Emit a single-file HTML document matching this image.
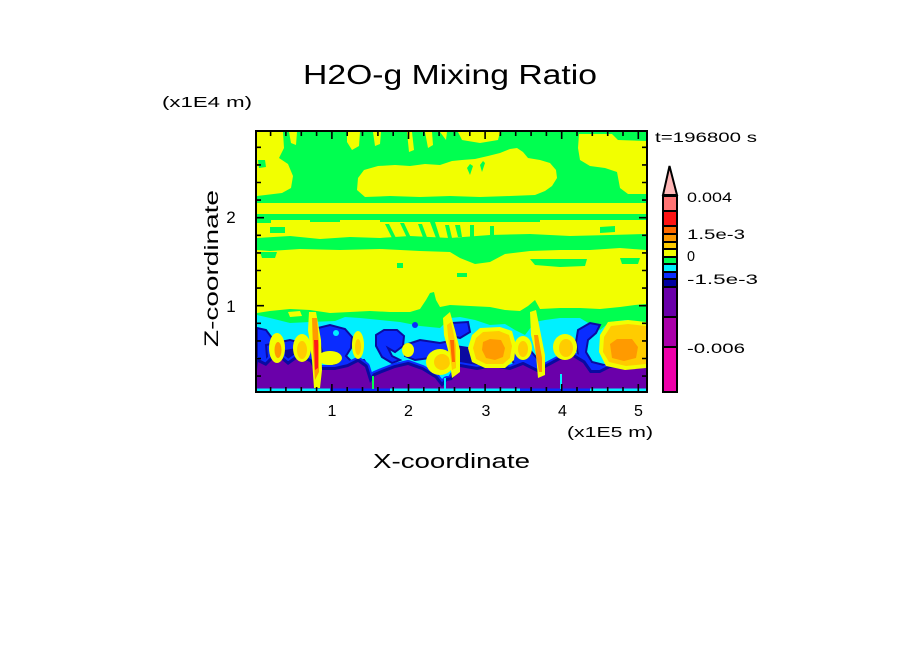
<!DOCTYPE html>
<html><head><meta charset="utf-8"><style>html,body{margin:0;padding:0;background:#fff;width:904px;height:654px;overflow:hidden}svg{display:block}</style></head>
<body>
<svg width="904" height="654" viewBox="0 0 904 654" xmlns="http://www.w3.org/2000/svg" font-family="Liberation Sans, sans-serif">
<rect width="904" height="654" fill="#fff"/>
<defs><clipPath id="c"><rect x="257" y="132" width="389" height="259"/></clipPath></defs>
<g clip-path="url(#c)">
<rect x="257" y="132" width="389" height="259" fill="#f2ff00"/>
<!-- top green block -->
<rect x="257" y="132" width="389" height="71" fill="#00ff50"/>
<!-- yellow overlays in top -->
<polygon fill="#f2ff00" points="257,132 283,132 284,148 279,158 288,164 293,176 291,188 282,193 257,196"/>
<polygon fill="#00ff50" points="258,160 265,160 266,167 259,168"/>
<polygon fill="#f2ff00" points="289,132 297,132 296,145 291,143"/>
<polygon fill="#f2ff00" points="347,132 360,132 359,146 352,150 347,142"/>
<polygon fill="#f2ff00" points="373,132 381,132 380,144 375,146"/>
<polygon fill="#f2ff00" points="407,132 412,132 414,150 409,152"/>
<polygon fill="#f2ff00" points="425,132 432,132 433,145 428,148"/>
<polygon fill="#f2ff00" points="440,132 447,132 446,140"/>
<polygon fill="#f2ff00" points="458,132 500,132 498,140 480,143 462,140"/>
<polygon fill="#f2ff00" points="357,190 358,178 364,170 378,166 395,165 410,166 425,164 440,165 452,161 462,160 475,159 488,156 500,153 510,149 517,148 523,152 528,158 540,160 550,163 556,170 557,178 552,186 545,191 535,195 510,196 480,197 450,196 420,197 390,196 365,197"/>
<polygon fill="#00ff50" points="467,168 470,164 473,166 470,175"/>
<polygon fill="#00ff50" points="480,165 483,161 485,163 482,172"/>
<polygon fill="#f2ff00" points="579,134 612,134 618,140 646,141 646,194 628,194 620,188 617,172 605,168 590,166 580,160 578,148"/>
<!-- mid bands -->
<rect x="257" y="214" width="389" height="6" fill="#00ff50"/>
<rect x="380" y="220" width="160" height="2" fill="#00ff50"/>
<rect x="257" y="220" width="14" height="3" fill="#00ff50"/>
<rect x="310" y="220" width="30" height="2" fill="#00ff50"/>
<polygon fill="#00ff50" points="270,227 285,227 285,233 270,233"/>
<polygon fill="#00ff50" points="385,224 389,224 397,240 393,240"/>
<polygon fill="#00ff50" points="400,223 404,223 412,240 408,240"/>
<polygon fill="#00ff50" points="418,224 422,224 428,240 424,240"/>
<polygon fill="#00ff50" points="430,222 435,222 440,238 436,238"/>
<polygon fill="#00ff50" points="445,225 449,225 452,238 448,238"/>
<polygon fill="#00ff50" points="455,225 460,225 462,237 458,237"/>
<polygon fill="#00ff50" points="470,225 474,225 474,237 470,237"/>
<polygon fill="#00ff50" points="490,226 494,226 494,236 490,236"/>
<polygon fill="#00ff50" points="600,227 615,226 615,232 600,233"/>
<polygon fill="#00ff50" points="257,238 290,236 320,239 350,237 380,238 410,236 450,238 490,235 530,234 570,236 610,235 646,234 646,250 620,248 590,250 560,250 530,251 505,254 490,262 475,264 460,258 450,252 420,251 380,249 340,250 300,249 270,251 257,250"/>
<polygon fill="#00ff50" points="260,252 277,252 275,258 262,258"/>
<polygon fill="#00ff50" points="530,259 587,259 585,266 560,267 535,265"/>
<polygon fill="#00ff50" points="397,263 403,263 403,268 397,268"/>
<polygon fill="#00ff50" points="457,273 467,273 467,277 457,277"/>
<polygon fill="#00ff50" points="620,258 640,258 638,264 622,264"/>
<!-- bottom zone: green layer -->
<polygon fill="#00ff50" points="257,313 270,311 290,309 310,310 330,313 350,312 370,311 390,312 410,312 420,309 426,300 430,293 434,292 436,300 440,307 450,305 470,306 490,307 505,310 520,311 528,306 535,300 540,309 560,308 580,308 600,309 620,307 635,305 646,304 646,391 257,391"/>
<polygon fill="#f2ff00" points="288,312 300,311 302,316 290,317"/>
<!-- cyan layer -->
<polygon fill="#00f0ff" points="257,315 270,318 290,323 310,322 335,321 345,317 360,318 380,320 400,322 420,326 440,328 450,318 460,317 475,320 490,325 505,324 515,330 525,335 535,322 545,320 560,318 580,318 590,324 600,330 610,322 625,320 646,322 646,391 257,391"/>
<!-- blue blobs -->
<g fill="#0a2cff" stroke="#0a0aa0" stroke-width="2">
<polygon points="257,328 266,330 272,338 270,350 266,362 264,372 257,374"/>
<polygon points="318,328 330,325 345,329 352,337 351,348 346,356 352,362 364,360 368,366 358,370 340,368 330,362 322,352 319,340"/>
<polygon points="376,335 384,330 397,330 404,336 403,346 395,352 388,348 392,356 400,360 392,363 382,357 376,346"/>
<polygon points="405,345 420,340 440,343 455,340 458,355 445,360 430,358 415,360 405,356"/>
<polygon points="452,323 468,322 470,332 460,338 452,336"/>
<polygon points="508,352 520,345 530,350 540,362 545,374 530,372 515,366"/>
<polygon points="578,330 590,323 600,325 596,333 588,340 586,352 592,362 604,365 612,368 600,373 588,368 578,355 576,342"/>
<polygon points="636,355 646,352 646,368 636,368"/>
<polygon points="266,345 290,340 314,346 314,364 290,368 268,368"/>
</g>
<polygon fill="#0a0aa0" points="455,345 475,348 478,365 462,368 455,360"/>
<polygon fill="#0a0aa0" points="285,350 296,348 296,362 285,364"/>
<circle cx="415" cy="325" r="3" fill="#0a2cff"/>
<circle cx="336" cy="333" r="3" fill="#00f0ff"/>
<!-- purple bottom with contour bands -->
<polygon fill="none" stroke="#0a2cff" stroke-width="10" stroke-linejoin="round" points="257,370 258,362 266,366 275,357 282,360 288,365 298,358 305,360 310,362 314,370 316,384 320,378 322,370 335,370 348,367 358,362 365,367 370,383 375,376 382,373 395,368 408,365 422,370 435,378 442,387 447,381 452,380 460,367 477,370 493,367 510,370 523,365 537,372 547,367 560,360 573,357 583,363 590,373 600,373 610,368 623,367 637,368 646,367 646,391 257,391"/>
<polygon fill="none" stroke="#0a0aa0" stroke-width="6" stroke-linejoin="round" points="257,370 258,362 266,366 275,357 282,360 288,365 298,358 305,360 310,362 314,370 316,384 320,378 322,370 335,370 348,367 358,362 365,367 370,383 375,376 382,373 395,368 408,365 422,370 435,378 442,387 447,381 452,380 460,367 477,370 493,367 510,370 523,365 537,372 547,367 560,360 573,357 583,363 590,373 600,373 610,368 623,367 637,368 646,367 646,391 257,391"/>
<polygon fill="#6a00aa" points="257,370 258,362 266,366 275,357 282,360 288,365 298,358 305,360 310,362 314,370 316,384 320,378 322,370 335,370 348,367 358,362 365,367 370,383 375,376 382,373 395,368 408,365 422,370 435,378 442,387 447,381 452,380 460,367 477,370 493,367 510,370 523,365 537,372 547,367 560,360 573,357 583,363 590,373 600,373 610,368 623,367 637,368 646,367 646,391 257,391"/>
<rect x="257" y="388.5" width="389" height="2.5" fill="#00f0ff"/>
<rect x="330" y="388.5" width="60" height="2.5" fill="#0a2cff"/>
<rect x="520" y="388.5" width="70" height="2.5" fill="#0a2cff"/>
<rect x="372" y="376" width="2" height="13" fill="#00ff50"/>
<rect x="444" y="378" width="2" height="11" fill="#00f0ff"/>
<rect x="560" y="374" width="2" height="15" fill="#00f0ff"/>
<!-- yellow/gold/orange blobs -->
<polygon fill="#f2ff00" points="472,335 480,328 500,327 512,331 516,345 514,360 505,368 485,368 472,362 468,348"/>
<polygon fill="#ffcc00" points="476,338 483,332 499,331 509,335 512,346 510,358 503,364 486,364 476,359 473,348"/>
<polygon fill="#ff9a00" points="483,342 490,339 501,340 505,348 503,357 495,360 486,358 482,350"/>
<polygon fill="#f2ff00" points="600,335 608,322 628,320 646,322 646,368 625,370 606,366 599,352"/>
<polygon fill="#ffcc00" points="604,337 611,326 628,324 646,326 646,364 626,366 609,362 603,352"/>
<polygon fill="#ff9a00" points="610,344 617,339 632,339 638,347 636,358 624,361 612,358"/>
<ellipse cx="523" cy="348" rx="9" ry="12" fill="#f2ff00"/>
<ellipse cx="523" cy="349" rx="5" ry="8" fill="#ffcc00"/>
<ellipse cx="565" cy="347" rx="12" ry="13" fill="#f2ff00"/>
<ellipse cx="566" cy="348" rx="7" ry="9" fill="#ffcc00"/>
<ellipse cx="277" cy="348" rx="8" ry="15" fill="#f2ff00"/>
<ellipse cx="278" cy="350" rx="3.5" ry="8" fill="#ff9a00"/>
<ellipse cx="302" cy="348" rx="9" ry="14" fill="#f2ff00"/>
<ellipse cx="302" cy="350" rx="5" ry="9" fill="#ffcc00"/>
<ellipse cx="330" cy="358" rx="12" ry="7" fill="#f2ff00"/>
<ellipse cx="358" cy="345" rx="6" ry="14" fill="#f2ff00"/>
<ellipse cx="358" cy="347" rx="3" ry="8" fill="#ffcc00"/>
<ellipse cx="408" cy="350" rx="6" ry="7" fill="#f2ff00"/>
<ellipse cx="440" cy="362" rx="14" ry="13" fill="#f2ff00"/>
<ellipse cx="442" cy="362" rx="8" ry="8" fill="#ffcc00"/>
<!-- streaks -->
<polygon fill="#f2ff00" points="309,312 316,312 321,340 322,370 320,388 314,388 312,360 308,330"/>
<polygon fill="#ff9a00" points="312,318 317,318 319,345 319,372 315,380 313,350"/>
<polygon fill="#ff1a1a" points="314,340 318,340 318,368 315,370"/>
<polygon fill="#f2ff00" points="443,318 450,312 455,330 460,350 460,372 452,378 448,350 444,335"/>
<polygon fill="#ffcc00" points="447,325 451,322 456,345 456,368 452,370 449,345"/>
<polygon fill="#ff6a00" points="450,340 454,340 455,362 452,362"/>
<polygon fill="#f2ff00" points="530,312 536,310 540,330 545,355 545,375 538,378 536,355 531,335"/>
<polygon fill="#ff9a00" points="534,335 538,335 542,358 542,372 539,372 536,355"/>
</g>
<!-- frame -->
<rect x="256" y="131" width="391" height="261" fill="none" stroke="#000" stroke-width="2"/>
<!-- ticks -->
<path stroke="#000" stroke-width="1.6" fill="none" d="
M270.6 132V136 M285.9 132V136 M301.3 132V136 M316.6 132V136 M331.9 132V139 M347.2 132V136 M362.5 132V136 M377.9 132V136 M393.2 132V136 M408.5 132V139 M423.8 132V136 M439.1 132V136 M454.5 132V136 M469.8 132V136 M485.1 132V139 M500.4 132V136 M515.7 132V136 M531.1 132V136 M546.4 132V136 M561.7 132V139 M577 132V136 M592.3 132V136 M607.7 132V136 M623 132V136 M638.3 132V139
M270.6 391V387 M285.9 391V387 M301.3 391V387 M316.6 391V387 M331.9 391V384 M347.2 391V387 M362.5 391V387 M377.9 391V387 M393.2 391V387 M408.5 391V384 M423.8 391V387 M439.1 391V387 M454.5 391V387 M469.8 391V387 M485.1 391V384 M500.4 391V387 M515.7 391V387 M531.1 391V387 M546.4 391V387 M561.7 391V384 M577 391V387 M592.3 391V387 M607.7 391V387 M623 391V387 M638.3 391V384
M257 376.1H261 M257 358.5H261 M257 340.9H261 M257 323.3H261 M257 305.7H264 M257 288.1H261 M257 270.5H261 M257 252.9H261 M257 235.3H261 M257 217.7H264 M257 200.1H261 M257 182.5H261 M257 164.9H261 M257 147.3H261
M646 376.1H642 M646 358.5H642 M646 340.9H642 M646 323.3H642 M646 305.7H639 M646 288.1H642 M646 270.5H642 M646 252.9H642 M646 235.3H642 M646 217.7H639 M646 200.1H642 M646 182.5H642 M646 164.9H642 M646 147.3H642"/>
<!-- colorbar -->
<polygon points="669.5,166 663,195 677,195" fill="#ffb6b6" stroke="#000" stroke-width="2" stroke-linejoin="miter"/>
<rect x="662" y="195" width="16" height="198" fill="#000"/>
<rect x="664" y="197" width="12" height="13" fill="#ff7373"/>
<rect x="664" y="212" width="12" height="13" fill="#ff1414"/>
<rect x="664" y="227" width="12" height="6" fill="#ff6a00"/>
<rect x="664" y="235" width="12" height="6" fill="#ff9a00"/>
<rect x="664" y="243" width="12" height="5" fill="#ffcc00"/>
<rect x="664" y="250" width="12" height="6" fill="#f2ff00"/>
<rect x="664" y="258" width="12" height="5" fill="#00ff50"/>
<rect x="664" y="265" width="12" height="6" fill="#00f0ff"/>
<rect x="664" y="273" width="12" height="5" fill="#0a2cff"/>
<rect x="664" y="280" width="12" height="6" fill="#0000a0"/>
<rect x="664" y="288" width="12" height="28" fill="#6a00aa"/>
<rect x="664" y="318" width="12" height="28" fill="#aa00aa"/>
<rect x="664" y="348" width="12" height="43" fill="#ee00aa"/>
<!-- text -->
<g fill="#000">
<text x="303" y="84" font-size="28" textLength="294" lengthAdjust="spacingAndGlyphs">H2O-g Mixing Ratio</text>
<text x="162" y="107" font-size="15" textLength="90" lengthAdjust="spacingAndGlyphs">(x1E4 m)</text>
<text x="655" y="142" font-size="14" textLength="102" lengthAdjust="spacingAndGlyphs">t=196800 s</text>
<text x="231" y="223" font-size="17" text-anchor="middle">2</text>
<text x="231" y="312" font-size="17" text-anchor="middle">1</text>
<text x="332" y="416" font-size="16" text-anchor="middle">1</text>
<text x="408.5" y="416" font-size="16" text-anchor="middle">2</text>
<text x="486" y="416" font-size="16" text-anchor="middle">3</text>
<text x="562.5" y="416" font-size="16" text-anchor="middle">4</text>
<text x="638.5" y="416" font-size="16" text-anchor="middle">5</text>
<text x="567" y="437" font-size="15" textLength="86" lengthAdjust="spacingAndGlyphs">(x1E5 m)</text>
<text x="373" y="468" font-size="20" textLength="157" lengthAdjust="spacingAndGlyphs">X-coordinate</text>
<text transform="translate(218,347) rotate(-90)" font-size="19" textLength="157" lengthAdjust="spacingAndGlyphs">Z-coordinate</text>
<text x="687" y="202" font-size="14" textLength="45" lengthAdjust="spacingAndGlyphs">0.004</text>
<text x="687" y="239" font-size="14" textLength="58" lengthAdjust="spacingAndGlyphs">1.5e-3</text>
<text x="687" y="261" font-size="15" textLength="8" lengthAdjust="spacingAndGlyphs">0</text>
<text x="687" y="284" font-size="14" textLength="71" lengthAdjust="spacingAndGlyphs">-1.5e-3</text>
<text x="687" y="353" font-size="14" textLength="58" lengthAdjust="spacingAndGlyphs">-0.006</text>
</g>
</svg>
</body></html>
